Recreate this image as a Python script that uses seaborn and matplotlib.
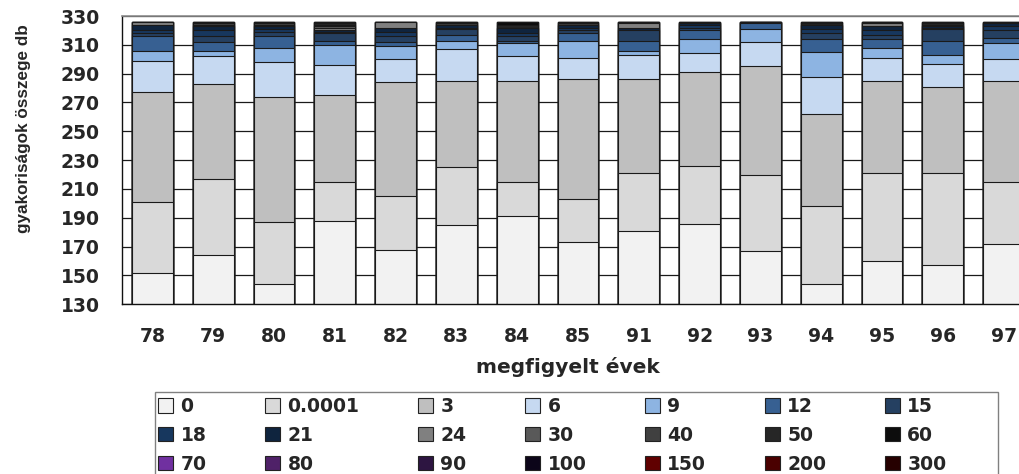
import numpy as np
import pandas as pd
import matplotlib
matplotlib.use("Agg")
import matplotlib.pyplot as plt
from matplotlib.patches import Patch, Rectangle
import seaborn as sns

# observed years (x categories)
years = ["78", "79", "80", "81", "82", "83", "84", "85", "91", "92", "93", "94", "95", "96", "97"]

# frequency of each class per year (stack order bottom -> top)
s_0 = [152, 164, 144, 188, 168, 185, 191, 173, 181, 186, 167, 144, 160, 157, 172]
s_00001 = [49, 53, 43, 27, 37, 40, 24, 30, 40, 40, 53, 54, 61, 64, 43]
s_3 = [76, 66, 87, 60, 79, 60, 70, 83, 65, 65, 75, 64, 64, 60, 70]
s_6 = [22, 19, 24, 21, 16, 22, 17, 15, 17, 13, 17, 26, 16, 16, 15]
s_9 = [7, 4, 10, 14, 9, 6, 9, 12, 3, 10, 9, 17, 7, 6, 11]
s_12 = [10, 6, 8, 3, 3, 4, 2, 5, 7, 6, 4, 9, 6, 10, 4]
s_15 = [2, 4, 3, 5, 4, 4, 3, 2, 7, 2, 1, 4, 3, 8, 5]
s_18 = [2, 4, 2, 1, 3, 1, 2, 2, 0, 2, 0, 3, 3, 1, 3]
s_21 = [4, 3, 2, 1, 3, 2, 4, 2, 2, 1, 0, 3, 3, 1, 2]
s_24 = [2, 0, 0, 2, 4, 0, 0, 0, 3, 0, 0, 0, 2, 0, 0]
s_30 = [0, 1, 1, 1, 0, 0, 0, 0, 1, 0, 0, 0, 1, 0, 0]
s_40 = [0, 1, 1, 1, 0, 1, 0, 1, 0, 0, 0, 0, 0, 1, 0]
s_50 = [0, 1, 1, 1, 0, 1, 2, 0, 0, 0, 0, 1, 0, 1, 0]
s_60 = [0, 0, 0, 1, 0, 0, 2, 1, 0, 1, 0, 1, 0, 1, 1]
s_70 = [0, 0, 0, 0, 0, 0, 0, 0, 0, 0, 0, 0, 0, 0, 0]
s_80 = [0, 0, 0, 0, 0, 0, 0, 0, 0, 0, 0, 0, 0, 0, 0]
s_90 = [0, 0, 0, 0, 0, 0, 0, 0, 0, 0, 0, 0, 0, 0, 0]
s_100 = [0, 0, 0, 0, 0, 0, 0, 0, 0, 0, 0, 0, 0, 0, 0]
s_150 = [0, 0, 0, 0, 0, 0, 0, 0, 0, 0, 0, 0, 0, 0, 0]
s_200 = [0, 0, 0, 0, 0, 0, 0, 0, 0, 0, 0, 0, 0, 0, 0]
s_300 = [0, 0, 0, 0, 0, 0, 0, 0, 0, 0, 0, 0, 0, 0, 0]

labels = ["0", "0.0001", "3", "6", "9", "12", "15", "18", "21", "24", "30",
          "40", "50", "60", "70", "80", "90", "100", "150", "200", "300"]
series = [s_0, s_00001, s_3, s_6, s_9, s_12, s_15, s_18, s_21, s_24, s_30,
          s_40, s_50, s_60, s_70, s_80, s_90, s_100, s_150, s_200, s_300]
colors = ["#F2F2F2", "#D9D9D9", "#BFBFBF", "#C6D9F1", "#8DB4E2", "#376092", "#254061",
          "#17375E", "#0F243E", "#808080", "#595959", "#404040", "#262626", "#0D0D0D",
          "#7030A0", "#4F2168", "#2D1541", "#0C0519", "#600000", "#4A0000", "#260000"]

sns.set_style("white")
plt.rcParams["font.family"] = ["DejaVu Sans"]
plt.rcParams["font.weight"] = "bold"

fig = plt.figure(figsize=(10.19, 4.74), dpi=100)
ax = fig.add_axes([122 / 1019, 1 - 304.3 / 474, 912 / 1019, 288.3 / 474])

# long table with cumulative heights, draw tallest first so lower ones overlay
rows = []
for lab, vals in zip(labels, series):
    for yr, v in zip(years, vals):
        rows.append({"year": yr, "klass": lab, "value": v})
df = pd.DataFrame(rows)
df["klass"] = pd.Categorical(df["klass"], categories=labels, ordered=True)
df = df.sort_values(["year", "klass"])
df["cum"] = df.groupby("year")["value"].cumsum()

for lab, col in reversed(list(zip(labels, colors))):
    sub = df[df["klass"] == lab]
    sns.barplot(data=sub, x="year", y="cum", order=years, color=col, saturation=1,
                width=0.67, edgecolor="#1a1a1a", linewidth=0.8, errorbar=None, ax=ax)

ax.set_xlim(-0.5, 14.5)
ax.set_ylim(130, 330)
ax.set_yticks(range(130, 331, 20))
ax.set_xticks(np.arange(-0.5, 15, 1))
ax.set_xticklabels([])
ax.set_xticks(np.arange(len(years)), labels=years, minor=True)
ax.tick_params(axis="x", which="major", direction="out", length=5, width=1, color="#222222")
ax.tick_params(axis="x", which="minor", length=0, pad=16, labelsize=13.5)
ax.tick_params(axis="y", direction="out", length=6, width=1, pad=10, labelsize=13.5, color="#222222")
ax.set_xlabel("")
ax.set_ylabel("")

ax.set_axisbelow(True)
ax.yaxis.grid(True, color="#1a1a1a", linewidth=0.9)
ax.xaxis.grid(False)
for side in ["left", "bottom"]:
    ax.spines[side].set_color("#111111")
    ax.spines[side].set_linewidth(1)
ax.spines["top"].set_color("#8c8c8c")
ax.spines["top"].set_linewidth(1.2)
ax.spines["right"].set_color("#8c8c8c")

fig.text(568 / 1019, 1 - 367 / 474, "megfigyelt évek", ha="center", va="center",
         fontsize=14.5, fontweight="bold")

fig.text(24 / 1019, 1 - 129 / 474, "gyakoriságok összege db", rotation=90,
         ha="center", va="center", fontsize=12.3, fontweight="bold",
         family=["Liberation Sans", "DejaVu Sans"])

# legend: 7 columns filled row by row
handles = [Patch(facecolor=c, edgecolor="#222222", linewidth=0.8) for c in colors]
order = [r * 7 + c for c in range(7) for r in range(3)]
fig.legend([handles[i] for i in order], [labels[i] for i in order], ncol=7,
           loc="upper left", bbox_to_anchor=(158 / 1019, 1 - 397 / 474),
           bbox_transform=fig.transFigure, frameon=False,
           prop={"weight": "bold", "size": 13.5}, handlelength=0.8, handleheight=0.8,
           handletextpad=0.4, columnspacing=3.12, labelspacing=0.52, borderpad=0,
           borderaxespad=0)
fig.patches.append(Rectangle((155 / 1019, -0.05), (998 - 155) / 1019, 0.05 + 82 / 474,
                             transform=fig.transFigure, fill=False,
                             edgecolor="#808080", linewidth=1))

fig.savefig("out.png", dpi=100)
